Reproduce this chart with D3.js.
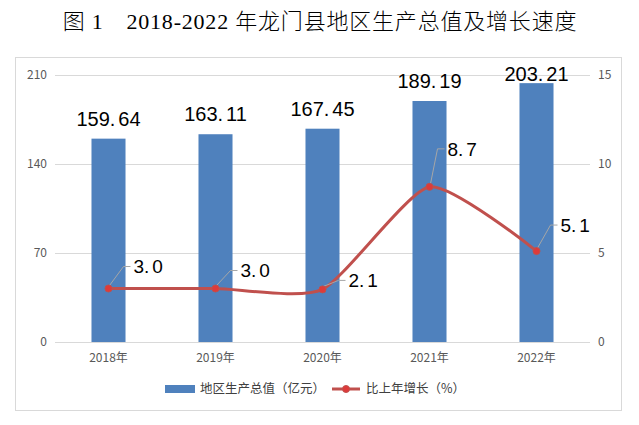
<!DOCTYPE html>
<html>
<head>
<meta charset="utf-8">
<script src="https://cdn.jsdelivr.net/npm/d3@7"></script>
<style>
  html, body { margin: 0; padding: 0; background: #fff; }
  svg { display: block; }
</style>
</head>
<body>
<svg id="chart" width="639" height="425"></svg>
<script>
// data
const years = ['2018年', '2019年', '2020年', '2021年', '2022年'];
const gdp = [159.64, 163.11, 167.45, 189.19, 203.21];
// where the red points sit on the right axis (2020 is drawn near 3.0 in the source)
const growthPlotted = [3.0, 3.0, 2.95, 8.7, 5.1];
// the labels as printed
const growthLabels = ['3.0', '3.0', '2.1', '8.7', '5.1'];
const leftTicks = [0, 70, 140, 210];
const rightTicks = [0, 5, 10, 15];

// label placement, relative to each point (layout only)
const labelOffsets = [[25, -22], [25, -18], [26, -9], [18, -38], [24, -26]];

const svg = d3.select('#chart');
const plot = { left: 55, right: 590, top: 74.5, bottom: 342 };
const cjk = '"Noto Sans CJK SC", "Noto Sans", sans-serif';

// title
svg.append('text')
  .attr('x', 320)
  .attr('y', 29)
  .attr('text-anchor', 'middle')
  .attr('font-family', '"Liberation Serif", "Noto Sans CJK SC", serif')
  .attr('font-size', 22)
  .attr('font-weight', 300)
  .attr('letter-spacing', 0.8)
  .attr('fill', '#000')
  .text('图 1　2018-2022 年龙门县地区生产总值及增长速度');

// chart frame
svg.append('rect')
  .attr('x', 15.5).attr('y', 57.5)
  .attr('width', 606).attr('height', 353)
  .attr('fill', 'none')
  .attr('stroke', '#d9d9d9');

const x = d3.scaleBand()
  .domain(years)
  .range([plot.left, plot.right])
  .paddingInner(0.682)
  .paddingOuter(0.341);

const yL = d3.scaleLinear().domain([0, 210]).range([plot.bottom, plot.top]);
const yR = d3.scaleLinear().domain([0, 15]).range([plot.bottom, plot.top]);

// gridlines
svg.append('g')
  .selectAll('line')
  .data(leftTicks)
  .join('line')
    .attr('x1', plot.left).attr('x2', plot.right)
    .attr('y1', d => Math.round(yL(d)) + 0.5)
    .attr('y2', d => Math.round(yL(d)) + 0.5)
    .attr('stroke', '#d9d9d9');

// left axis labels
svg.append('g')
  .selectAll('text')
  .data(leftTicks)
  .join('text')
    .attr('x', 47)
    .attr('y', d => yL(d))
    .attr('dy', '0.35em')
    .attr('text-anchor', 'end')
    .attr('font-family', cjk)
    .attr('font-size', 12)
    .attr('fill', '#595959')
    .text(d => d);

// right axis labels
svg.append('g')
  .selectAll('text')
  .data(rightTicks)
  .join('text')
    .attr('x', 598)
    .attr('y', d => yR(d))
    .attr('dy', '0.35em')
    .attr('font-family', cjk)
    .attr('font-size', 12)
    .attr('fill', '#595959')
    .text(d => d);

// category labels
svg.append('g')
  .selectAll('text')
  .data(years)
  .join('text')
    .attr('x', d => x(d) + x.bandwidth() / 2)
    .attr('y', 362)
    .attr('text-anchor', 'middle')
    .attr('font-family', cjk)
    .attr('font-size', 12)
    .attr('fill', '#595959')
    .text(d => d);

// bars
svg.append('g')
  .selectAll('rect')
  .data(gdp)
  .join('rect')
    .attr('x', (d, i) => x(years[i]))
    .attr('y', d => yL(d))
    .attr('width', x.bandwidth())
    .attr('height', d => yL(0) - yL(d))
    .attr('fill', '#4f81bd');

// number with a wider gap after the dot, like the source font
function dottedText(sel, str) {
  const parts = str.split('.');
  sel.append('tspan').text(parts[0]);
  sel.append('tspan').text('.');
  sel.append('tspan').attr('dx', 3).text(parts[1]);
}

// bar value labels (kept inside the plot area at the top)
svg.append('g')
  .selectAll('text')
  .data(gdp)
  .join('text')
    .attr('x', (d, i) => x(years[i]) + x.bandwidth() / 2)
    .attr('y', d => Math.max(yL(d) - 13, 81))
    .attr('text-anchor', 'middle')
    .attr('font-family', '"Liberation Sans", Arial, sans-serif')
    .attr('font-size', 20)
    .attr('fill', '#000')
    .each(function(d) { dottedText(d3.select(this), d.toFixed(2)); });

// growth line
const cx = i => x(years[i]) + x.bandwidth() / 2;
const line = d3.line()
  .x((d, i) => cx(i))
  .y(d => yR(d))
  .curve(d3.curveCardinal.tension(0.4));

svg.append('path')
  .datum(growthPlotted)
  .attr('d', line)
  .attr('fill', 'none')
  .attr('stroke', '#c0504d')
  .attr('stroke-width', 3)
  .attr('stroke-linecap', 'round');

// leader lines
svg.append('g')
  .selectAll('polyline')
  .data(growthPlotted)
  .join('polyline')
    .attr('points', (d, i) => {
      const px = cx(i), py = yR(d);
      const tx = px + labelOffsets[i][0], ty = py + labelOffsets[i][1];
      return [[px + 1, py - 3], [tx - 10, ty], [tx - 3, ty]].join(' ');
    })
    .attr('fill', 'none')
    .attr('stroke', '#a6a6a6')
    .attr('stroke-width', 1);

// markers
svg.append('g')
  .selectAll('circle')
  .data(growthPlotted)
  .join('circle')
    .attr('cx', (d, i) => cx(i))
    .attr('cy', d => yR(d))
    .attr('r', 3.5)
    .attr('fill', '#de3a3a')
    .attr('stroke', '#c0504d')
    .attr('stroke-width', 1);

// growth labels
svg.append('g')
  .selectAll('text')
  .data(growthPlotted)
  .join('text')
    .attr('x', (d, i) => cx(i) + labelOffsets[i][0])
    .attr('y', (d, i) => yR(d) + labelOffsets[i][1])
    .attr('dy', '0.35em')
    .attr('font-family', '"Liberation Sans", Arial, sans-serif')
    .attr('font-size', 19)
    .attr('fill', '#000')
    .each(function(d, i) { dottedText(d3.select(this), growthLabels[i]); });

// legend
const legend = svg.append('g').attr('transform', 'translate(165,389)');
legend.append('rect')
  .attr('x', 0).attr('y', -4)
  .attr('width', 30).attr('height', 8)
  .attr('fill', '#4f81bd');
const t1 = legend.append('text')
  .attr('x', 35)
  .attr('dy', '0.35em')
  .attr('font-family', cjk)
  .attr('font-size', 12.5)
  .attr('fill', '#404040')
  .text('地区生产总值（亿元）');
const x2 = 35 + t1.node().getComputedTextLength() + 7;
legend.append('line')
  .attr('x1', x2).attr('x2', x2 + 28)
  .attr('stroke', '#c0504d')
  .attr('stroke-width', 3);
legend.append('circle')
  .attr('cx', x2 + 14)
  .attr('r', 3.5)
  .attr('fill', '#de3a3a')
  .attr('stroke', '#c0504d');
legend.append('text')
  .attr('x', x2 + 34)
  .attr('dy', '0.35em')
  .attr('font-family', cjk)
  .attr('font-size', 12.5)
  .attr('fill', '#404040')
  .text('比上年增长（%）');
</script>
</body>
</html>
